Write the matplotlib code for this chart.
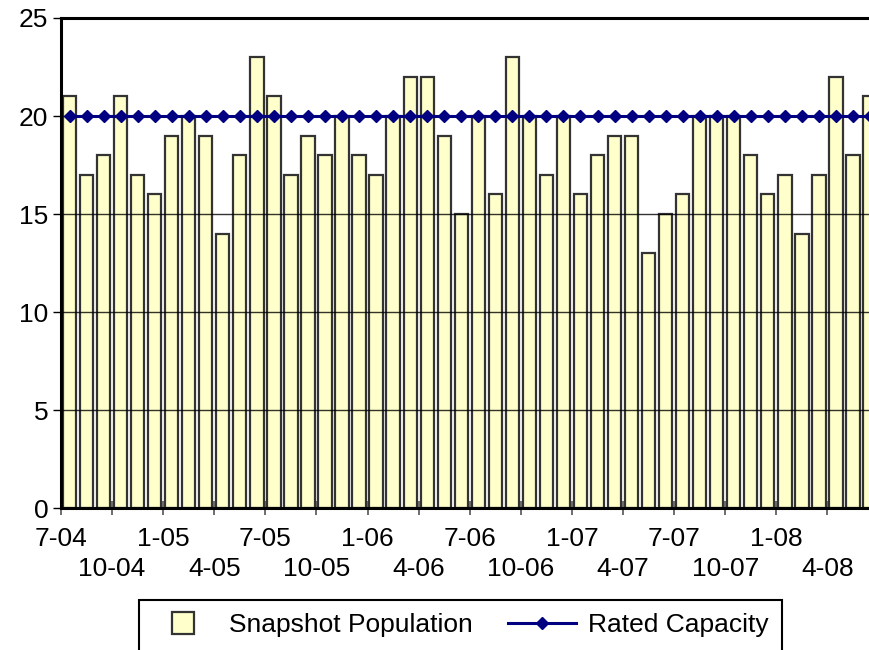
import matplotlib
matplotlib.use("Agg")
import matplotlib.pyplot as plt
import matplotlib.patches as mpatches
from matplotlib.container import BarContainer
from matplotlib.legend_handler import HandlerPatch, update_from_first_child
import numpy as np

plt.rcParams['font.family'] = ['Liberation Sans', 'DejaVu Sans']

population = [21, 17, 18, 21, 17, 16, 19, 20, 19, 14, 18, 23,
              21, 17, 19, 18, 20, 18, 17, 20, 22, 22, 19, 15,
              20, 16, 23, 20, 17, 20, 16, 18, 19, 19, 13, 15,
              16, 20, 20, 20, 18, 16, 17, 14, 17, 22, 18, 21]
capacity = [20] * len(population)
tick_labels = ["7-04", "10-04", "1-05", "4-05", "7-05", "10-05", "1-06", "4-06",
               "7-06", "10-06", "1-07", "4-07", "7-07", "10-07", "1-08", "4-08"]
y_ticks = [0, 5, 10, 15, 20, 25]

FS = 19
W, H = 870, 650
fig = plt.figure(figsize=(W / 100, H / 100), dpi=100)
ax = fig.add_axes([61 / W, 1 - 508 / H, 1 - 61 / W + 0.002, (508 - 18) / H])

x = np.arange(len(population)) + 0.5
bars = ax.bar(x, population, width=0.78, color="#FFFFCC", edgecolor="#333333",
              linewidth=1.6, zorder=2, label="Snapshot Population")
line, = ax.plot(x, capacity, color="#000080", linewidth=2.2, marker="D", markersize=6.5,
                zorder=4, label="Rated Capacity")

for yv in y_ticks[1:]:
    ax.axhline(yv, color="black", linewidth=1.0, alpha=0.8, zorder=3)

ax.set_ylim(0, 25)
ax.set_xlim(0, 47.6)
ax.set_yticks(y_ticks)
ax.set_yticklabels([str(v) for v in y_ticks])

tick_pos = np.arange(len(tick_labels)) * 3
ax.set_xticks(tick_pos[0::2])
ax.set_xticklabels(tick_labels[0::2])
ax.set_xticks(tick_pos[1::2], minor=True)
ax.set_xticklabels(tick_labels[1::2], minor=True)

ax.tick_params(axis="x", which="major", direction="inout", length=10, width=1.2,
               color="#555555", labelsize=FS, pad=9)
ax.tick_params(axis="x", which="minor", direction="inout", length=10, width=1.2,
               color="#555555", labelsize=FS, pad=30)
ax.tick_params(axis="y", direction="out", length=6, width=1, labelsize=FS, pad=3)

for s in ["left", "bottom", "top"]:
    ax.spines[s].set_linewidth(2.2)
    ax.spines[s].set_color("black")
ax.spines["right"].set_visible(False)
ax.spines["left"].set_zorder(5)
ax.spines["bottom"].set_zorder(5)


def square_patch(legend, orig_handle, xdescent, ydescent, width, height, fontsize):
    side = 22 * 72 / 100
    cx = -xdescent + width / 2
    cy = -ydescent + height / 2
    return mpatches.Rectangle((cx - side / 2, cy - side / 2), side, side)


leg = fig.legend([bars, line], ["Snapshot Population", "Rated Capacity"],
                 loc="upper left", bbox_to_anchor=(139 / W, 1 - 604 / H), ncol=2,
                 fontsize=FS, frameon=False,
                 handlelength=2.6, columnspacing=1.33, borderpad=0.35, handletextpad=0.45,
                 borderaxespad=0,
                 handler_map={BarContainer: HandlerPatch(patch_func=square_patch,
                                                         update_func=update_from_first_child)})

frame = mpatches.Rectangle((139 / W, 1 - 670 / H), (782 - 139) / W, 70 / H,
                           transform=fig.transFigure, fill=False, edgecolor="black",
                           linewidth=1.5, clip_on=False)
fig.patches.append(frame)

fig.savefig("out.png", dpi=100)
